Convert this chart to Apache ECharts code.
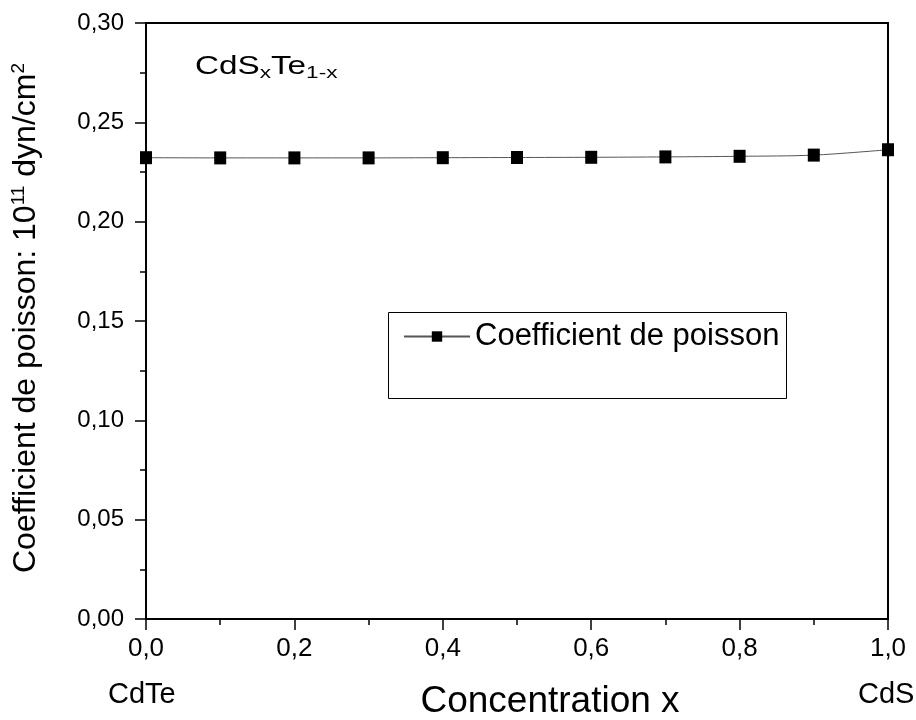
<!DOCTYPE html>
<html>
<head>
<meta charset="utf-8">
<script src="https://cdn.jsdelivr.net/npm/echarts@6/dist/echarts.min.js"></script>
<style>
  html, body { margin: 0; padding: 0; background: #fff; }
  #chart { width: 916px; height: 720px; }
</style>
</head>
<body>
<div id="chart"></div>
<script>
// Concentration x of S in CdS_xTe_(1-x)
const concentration = [0.0, 0.1, 0.2, 0.3, 0.4, 0.5, 0.6, 0.7, 0.8, 0.9, 1.0];
// Poisson coefficient values
const poisson = [0.2322, 0.2321, 0.2321, 0.2321, 0.2322, 0.2323, 0.2324, 0.2326, 0.2329, 0.2335, 0.2362];
const seriesName = 'Coefficient de poisson';
const endLabels = ['CdTe', 'CdS'];

const FONT = 'Liberation Sans, Arial, sans-serif';
const chart = echarts.init(document.getElementById('chart'), null, { renderer: 'canvas' });

const comma = (v, d) => v.toFixed(d).replace('.', ',');

chart.setOption({
  backgroundColor: '#fff',
  animation: false,
  grid: {
    left: 146, right: 28, top: 23, bottom: 101,
    outerBoundsMode: 'none', containLabel: false,
    show: true, borderColor: '#000', borderWidth: 2, backgroundColor: 'transparent'
  },
  xAxis: {
    type: 'value', min: 0, max: 1, interval: 0.2,
    name: 'Concentration x', nameLocation: 'middle', nameGap: 64,
    nameTextStyle: { fontFamily: FONT, fontSize: 37, color: '#000', padding: [0, 0, 0, 66] },
    axisLine: { show: true, lineStyle: { color: '#000', width: 2 } },
    axisTick: { show: true, inside: false, length: 11, lineStyle: { color: '#000', width: 1.5 } },
    minorTick: { show: true, splitNumber: 2, length: 6, lineStyle: { color: '#000', width: 1.5 } },
    splitLine: { show: false },
    axisLabel: { fontFamily: FONT, fontSize: 26, color: '#000', margin: 17, formatter: v => comma(v, 1) }
  },
  yAxis: {
    type: 'value', min: 0, max: 0.3, interval: 0.05,
    name: 'Coefficient de poisson: 10{sup|11} dyn/cm{sup|2}',
    nameLocation: 'middle', nameGap: 102, nameRotate: 90,
    nameTextStyle: {
      fontFamily: FONT, fontSize: 32, color: '#000', padding: [0, 0, 0, 6],
      rich: { sup: { fontFamily: FONT, fontSize: 19, color: '#000', verticalAlign: 'top', padding: [0, 0, 16, 0] } }
    },
    axisLine: { show: true, lineStyle: { color: '#000', width: 2 } },
    axisTick: { show: true, inside: false, length: 11, lineStyle: { color: '#000', width: 1.5 } },
    minorTick: { show: true, splitNumber: 2, length: 6, lineStyle: { color: '#000', width: 1.5 } },
    splitLine: { show: false },
    axisLabel: { fontFamily: FONT, fontSize: 24, color: '#000', margin: 22, formatter: v => comma(v, 2) }
  },
  legend: {
    show: true,
    left: 398, top: 316,
    itemWidth: 66, itemHeight: 13, itemGap: 10,
    textStyle: { fontFamily: FONT, fontSize: 31, color: '#000' },
    data: [{ name: seriesName }]
  },
  series: [{
    name: seriesName,
    type: 'line',
    smooth: 0.3,
    data: concentration.map((x, i) => [x, poisson[i]]),
    symbol: 'rect', symbolSize: [12, 13],
    itemStyle: { color: '#000' },
    lineStyle: { color: '#555', width: 1 },
    clip: false
  }],
  graphic: [
    {
      type: 'rect', silent: true,
      shape: { x: 388.5, y: 312.5, width: 398, height: 86 },
      style: { fill: 'none', stroke: '#000', lineWidth: 1 }
    },
    {
      type: 'text', x: 195, y: 52, scaleX: 1.33, silent: true,
      style: {
        text: 'CdS{sub|x}Te{sub|1-x}',
        font: '25px ' + FONT, fill: '#000',
        rich: { sub: { fontFamily: FONT, fontSize: 17, fill: '#000', verticalAlign: 'bottom', padding: [13, 0, 0, 0] } }
      }
    },
    {
      type: 'text', left: 108, top: 680, silent: true,
      style: { text: endLabels[0], font: '29px ' + FONT, fill: '#000' }
    },
    {
      type: 'text', left: 858, top: 680, silent: true,
      style: { text: endLabels[1], font: '29px ' + FONT, fill: '#000' }
    }
  ]
});
</script>
</body>
</html>
